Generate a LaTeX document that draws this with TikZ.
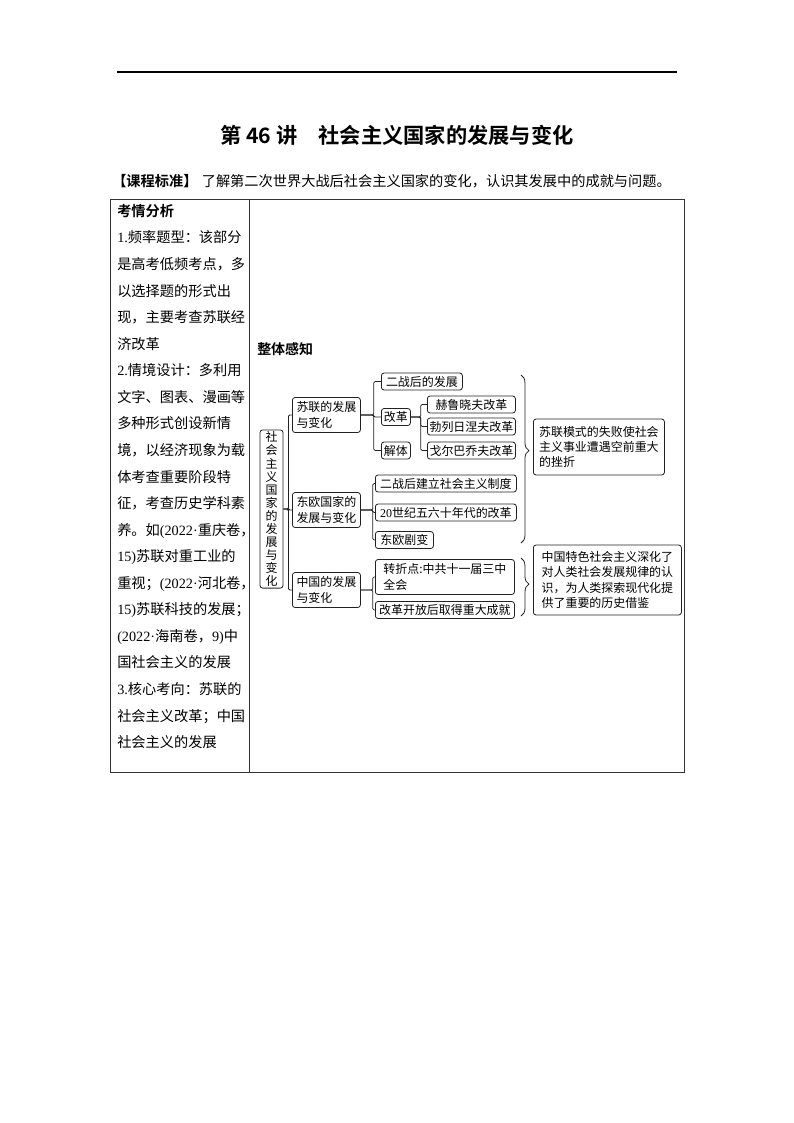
\documentclass[tikz,border=0pt]{standalone}
\usepackage{fontspec}
\setmainfont{Noto Sans CJK SC}[BoldFont={Noto Sans CJK SC Bold}]
\newfontfamily\latinf{Liberation Serif}
\usetikzlibrary{decorations.pathreplacing}
\definecolor{mapline}{HTML}{222222}
\definecolor{tableline}{HTML}{333333}
\newcommand{\pix}[1]{#1*0.2646mm}
\newcommand{\lat}[1]{{\latinf #1}}

\begin{document}
\begin{tikzpicture}[
  x=0.2646mm, y=-0.2646mm,
  mapbox/.style={draw=mapline, line width=0.6pt, rounded corners=2pt, inner sep=1.5pt,
                 anchor=west, minimum height=\pix{17}, font=\fontsize{9}{11.5}\selectfont},
  topic/.style={mapbox, minimum width=\pix{68}, minimum height=\pix{35}, align=left,
                font=\fontsize{9}{12.5}\selectfont},
  note/.style={mapbox, align=left},
  link/.style={draw=mapline, line width=0.6pt, rounded corners=1pt},
  brc/.style={draw=mapline, line width=0.6pt, decorate,
              decoration={brace, amplitude=2.1mm, aspect=0.45}},
  body/.style={inner sep=0pt, font=\fontsize{10.7}{20}\selectfont}
]
\useasboundingbox (0,0) rectangle (794,1123);
% page head
\draw[line width=0.8pt] (117,72) -- (677,72);
\node[font=\fontsize{16}{20}\bfseries] (title) at (397,135) {第 46 讲\quad 社会主义国家的发展与变化};
\node[body, anchor=west] (std) at (112,181) {\textbf{【课程标准】}\hspace{0.3em}了解第二次世界大战后社会主义国家的变化，认识其发展中的成就与问题。};
% table
\draw[draw=tableline, line width=0.6pt] (110,199) rectangle (684,772);
\draw[draw=tableline, line width=0.6pt] (249,199) -- (249,772);
\node[body, anchor=north west, align=left] (analysis) at (117,204) {\textbf{考情分析}\\
\lat{1.}频率题型：该部分\\
是高考低频考点，多\\
以选择题的形式出\\
现，主要考查苏联经\\
济改革\\
\lat{2.}情境设计：多利用\\
文字、图表、漫画等\\
多种形式创设新情\\
境，以经济现象为载\\
体考查重要阶段特\\
征，考查历史学科素\\
养。如\lat{(2022·}重庆卷，\\
\lat{15)}苏联对重工业的\\
重视；\lat{(2022·}河北卷，\\
\lat{15)}苏联科技的发展；\\
\lat{(2022·}海南卷，\lat{9)}中\\
国社会主义的发展\\
\lat{3.}核心考向：苏联的\\
社会主义改革；中国\\
社会主义的发展};
\node[font=\fontsize{10.5}{12}\bfseries, anchor=west, inner sep=0pt] (overview) at (257,349) {整体感知};
% mind map
\node[mapbox, anchor=center, minimum width=\pix{23}, minimum height=\pix{158}, align=center,
      font=\fontsize{9}{9.8}\selectfont] (root) at (271.5,509)
      {社\\会\\主\\义\\国\\家\\的\\发\\展\\与\\变\\化};
\node[topic] (su) at (292,415) {苏联的发展\\与变化};
\node[topic] (eu) at (292,510) {东欧国家的\\发展与变化};
\node[topic] (cn) at (292,590) {中国的发展\\与变化};

\node[mapbox, minimum width=\pix{81}] (su1) at (381,381.5) {二战后的发展};
\node[mapbox, minimum width=\pix{29}] (sugai) at (381,417) {改革};
\node[mapbox, minimum width=\pix{29}] (sujie) at (381,450.5) {解体};
\node[mapbox, minimum width=\pix{88}] (gai1) at (427,404.5) {赫鲁晓夫改革};
\node[mapbox, minimum width=\pix{88}] (gai2) at (427,426.5) {勃列日涅夫改革};
\node[mapbox, minimum width=\pix{88}] (gai3) at (427,450.5) {戈尔巴乔夫改革};

\node[mapbox, minimum width=\pix{141}] (eu1) at (375,483.5) {二战后建立社会主义制度};
\node[mapbox, minimum width=\pix{141}] (eu2) at (375,512.5) {\lat{20}世纪五六十年代的改革};
\node[mapbox, minimum width=\pix{58}] (eu3) at (375,540) {东欧剧变};

\node[note, minimum width=\pix{139}, minimum height=\pix{35}] (cn1) at (375,577) {转折点:中共十一届三中\\全会\hspace*{7em}};
\node[mapbox, minimum width=\pix{139}] (cn2) at (375,610) {改革开放后取得重大成就};

\draw[link] (root.east) -- ++(5,0) |- (su.west);
\draw[link] (root.east) -- ++(5,0) |- (eu.west);
\draw[link] (root.east) -- ++(5,0) |- (cn.west);
\draw[link] (su.east) -- ++(13,0) |- (su1.west);
\draw[link] (su.east) -- ++(13,0) |- (sugai.west);
\draw[link] (su.east) -- ++(13,0) |- (sujie.west);
\draw[link] (sugai.east) -- ++(10,0) |- (gai1.west);
\draw[link] (sugai.east) -- ++(10,0) |- (gai2.west);
\draw[link] (sugai.east) -- ++(10,0) |- (gai3.west);
\draw[link] (eu.east) -- ++(12,0) |- (eu1.west);
\draw[link] (eu.east) -- ++(12,0) |- (eu2.west);
\draw[link] (eu.east) -- ++(12,0) |- (eu3.west);
\draw[link] (cn.east) -- ++(12,0) |- (cn1.west);
\draw[link] (cn.east) -- ++(12,0) |- (cn2.west);

% summaries
\coordinate (b1top) at (521,375);
\coordinate (b1bot) at (521,543);
\coordinate (b2top) at (521,558);
\coordinate (b2bot) at (521,616);
\draw[brc] (b1top) -- (b1bot);
\draw[brc] (b2top) -- (b2bot);
\node[note, minimum width=\pix{131}, minimum height=\pix{56}] (fail) at (533,447)
     {苏联模式的失败使社会\\主义事业遭遇空前重大\\的挫折\hspace*{7em}};
\node[note, minimum width=\pix{148}, minimum height=\pix{70}] (lesson) at (533,580)
     {中国特色社会主义深化了\\对人类社会发展规律的认\\识，为人类探索现代化提\\供了重要的历史借鉴\hspace*{2em}};
\end{tikzpicture}
\end{document}
